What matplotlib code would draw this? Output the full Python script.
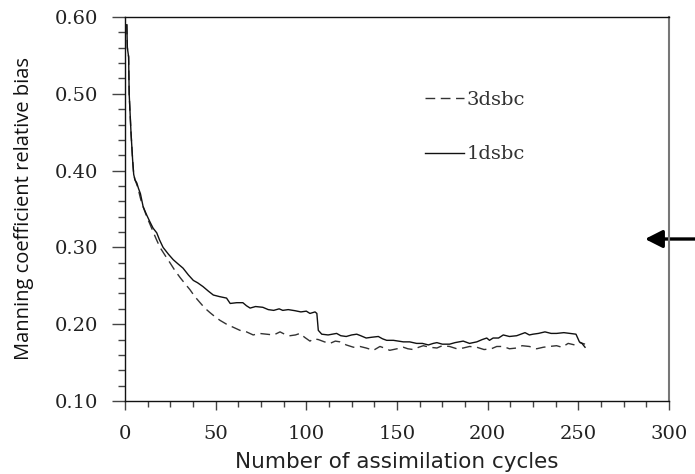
import numpy as np
import matplotlib
matplotlib.use('Agg')
import matplotlib.pyplot as plt
from matplotlib.ticker import MultipleLocator, FormatStrFormatter

cyc_1d = [1, 1.3, 2.0, 2.3, 3.3, 4.2, 4.8, 5.5, 6.5, 7.4, 8.5, 10, 12, 13.8, 15.5,
          17.5, 19, 21, 24, 26.6, 29, 32, 35, 37.7, 40, 43, 46, 48.7, 52, 56, 58,
          61.6, 65, 67, 69, 72, 76, 79, 82, 85, 87, 90, 93.7, 97, 100, 102, 104.8,
          105.8, 106.6, 108.5, 112, 116.7, 119, 122, 125, 127.8, 130, 133, 136,
          139.7, 142, 144.3, 148, 153.5, 157, 160.8, 164, 167.3, 170, 172, 175,
          179, 182, 186.5, 190, 194, 197, 199.5, 201, 203, 206, 208.6, 212, 216,
          220.6, 223, 225, 228, 231.6, 235, 238, 242, 245.4, 248.7, 250.6, 252, 253.7]
bias_1d = [0.590, 0.560, 0.548, 0.500, 0.450, 0.414, 0.395, 0.388, 0.384, 0.377,
           0.370, 0.353, 0.342, 0.333, 0.325, 0.319, 0.310, 0.300, 0.291, 0.284,
           0.279, 0.273, 0.264, 0.257, 0.254, 0.249, 0.243, 0.238, 0.236, 0.234,
           0.227, 0.228, 0.228, 0.224, 0.221, 0.223, 0.222, 0.219, 0.218, 0.220,
           0.218, 0.219, 0.2176, 0.216, 0.217, 0.214, 0.216, 0.214, 0.192, 0.187,
           0.186, 0.188, 0.185, 0.184, 0.186, 0.187, 0.185, 0.182, 0.183, 0.184,
           0.181, 0.179, 0.179, 0.177, 0.177, 0.175, 0.175, 0.173, 0.175, 0.176,
           0.174, 0.174, 0.176, 0.178, 0.175, 0.177, 0.180, 0.182, 0.179, 0.182,
           0.182, 0.186, 0.184, 0.185, 0.189, 0.186, 0.187, 0.188, 0.190, 0.188,
           0.188, 0.189, 0.188, 0.187, 0.177, 0.175, 0.170]

cyc_3d = [1, 1.3, 2.0, 2.3, 3.3, 4.2, 4.8, 5.5, 6.5, 7.4, 8.3, 9.2, 12, 14.7, 17,
          19.3, 22, 24.8, 27.5, 30.3, 33, 35.8, 38.5, 41.4, 44, 46.9, 49.5, 52.4,
          56, 59.7, 63.4, 67, 70.7, 74, 78, 82, 85.5, 88, 91, 94, 96.5, 99, 102,
          104, 106.6, 110, 113, 116, 118.6, 122, 126, 129.6, 133, 137, 140.6, 143,
          146, 150, 153.5, 156, 159, 162, 164.5, 168, 172, 175, 179, 183, 186.5,
          190, 194, 198, 202, 205, 208.6, 212, 216, 219, 223, 227, 230.7, 234, 238,
          241, 244.4, 248, 251, 253.7]
bias_3d = [0.590, 0.560, 0.548, 0.500, 0.450, 0.414, 0.395, 0.388, 0.382, 0.375,
           0.366, 0.358, 0.340, 0.325, 0.312, 0.300, 0.290, 0.280, 0.270, 0.261,
           0.253, 0.245, 0.236, 0.228, 0.221, 0.215, 0.210, 0.205, 0.200, 0.196,
           0.192, 0.190, 0.186, 0.188, 0.187, 0.186, 0.190, 0.187, 0.185, 0.186,
           0.188, 0.183, 0.178, 0.181, 0.180, 0.177, 0.175, 0.178, 0.177, 0.173,
           0.170, 0.171, 0.169, 0.166, 0.171, 0.169, 0.166, 0.168, 0.170, 0.168,
           0.167, 0.170, 0.172, 0.170, 0.169, 0.172, 0.171, 0.168, 0.169, 0.171,
           0.170, 0.167, 0.168, 0.171, 0.171, 0.168, 0.169, 0.172, 0.171, 0.168,
           0.170, 0.171, 0.172, 0.170, 0.175, 0.173, 0.176, 0.174]

fig = plt.figure(figsize=(6.95, 4.74), dpi=100)
ax = fig.add_axes([125/695, 1 - 401/474, 544/695, 384/474])

ax.plot(cyc_3d, bias_3d, color='#333333', lw=1.0, dashes=(7, 4), label='3dsbc')
ax.plot(cyc_1d, bias_1d, color='#111111', lw=1.0, label='1dsbc')

ax.set_xlim(0, 300)
ax.set_ylim(0.10, 0.60)
ax.xaxis.set_major_locator(MultipleLocator(50))
ax.xaxis.set_minor_locator(MultipleLocator(12.5))
ax.yaxis.set_major_locator(MultipleLocator(0.1))
ax.yaxis.set_minor_locator(MultipleLocator(0.02))
ax.yaxis.set_major_formatter(FormatStrFormatter('%.2f'))

ax.tick_params(axis='both', which='both', direction='out', color='#444444', width=1)
ax.tick_params(axis='y', which='major', length=9.5, pad=10)
ax.tick_params(axis='y', which='minor', length=5)
ax.tick_params(axis='x', which='major', length=6.5, pad=11)
ax.tick_params(axis='x', which='minor', length=4)
for lab in ax.get_xticklabels() + ax.get_yticklabels():
    lab.set_family('DejaVu Serif')
    lab.set_fontsize(14)
    lab.set_color('#222222')

for s in ['left', 'bottom', 'top']:
    ax.spines[s].set_color('#111111')
    ax.spines[s].set_linewidth(1)
ax.spines['right'].set_color('#777777')
ax.spines['right'].set_linewidth(1.5)

ax.set_xlabel('Number of assimilation cycles', family='DejaVu Sans',
              fontsize=15.5, color='#222222', labelpad=6)
ax.set_ylabel('Manning coefficient relative bias', family='Open Sans',
              fontsize=14.5, color='#111111', labelpad=15)

leg = ax.legend(loc='center left', bbox_to_anchor=(425/695, 1 - 127/474),
                bbox_transform=fig.transFigure, frameon=False, borderpad=0,
                borderaxespad=0, handlelength=2.0, handletextpad=0.15,
                labelspacing=1.9, prop={'family': 'DejaVu Serif', 'size': 14})
for t in leg.get_texts():
    t.set_color('#333333')

# arrow on the right edge
ax.annotate('', xy=(645/695, 1 - 239/474), xytext=(695/695, 1 - 239/474),
            xycoords='figure fraction', textcoords='figure fraction',
            annotation_clip=False, zorder=1,
            arrowprops=dict(arrowstyle='-|>,head_length=0.75,head_width=0.38',
                            color='black', lw=2.4, mutation_scale=14,
                            shrinkA=0, shrinkB=0))

fig.savefig('out.png', dpi=100)
